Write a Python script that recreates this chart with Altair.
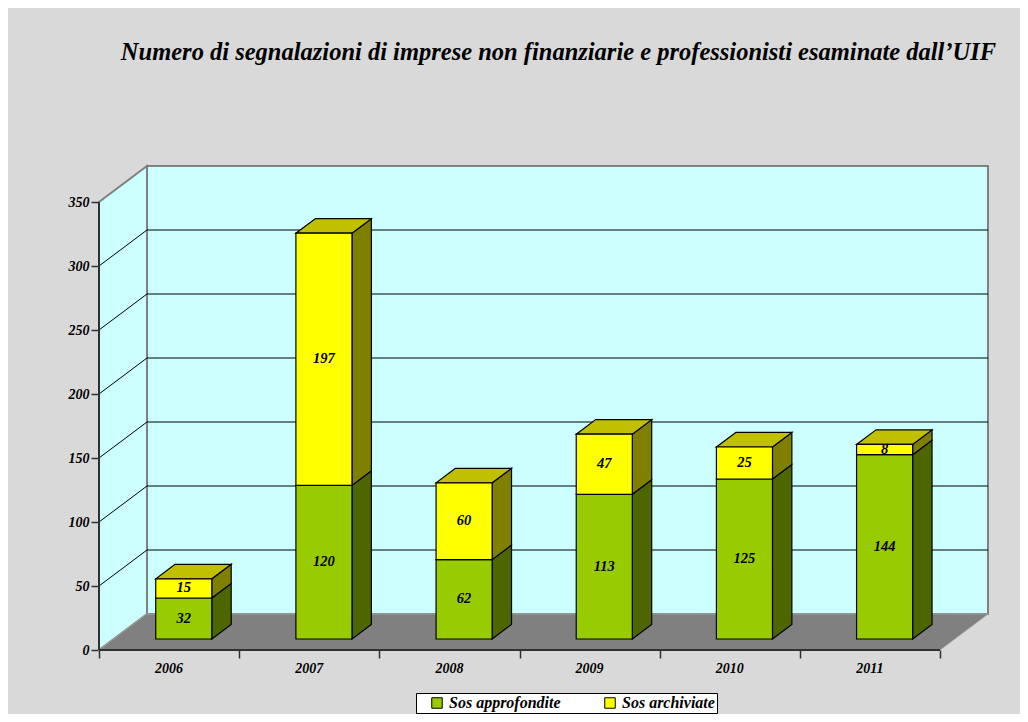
import altair as alt
import pandas as pd

# ---------------- data ----------------
years = ["2006", "2007", "2008", "2009", "2010", "2011"]
approfondite = [32, 120, 62, 113, 125, 144]
archiviate = [15, 197, 60, 47, 25, 8]
series_names = ["Sos approfondite", "Sos archiviate"]
y_ticks = [0, 50, 100, 150, 200, 250, 300, 350]
title_text = "Numero di segnalazioni di imprese non finanziarie e professionisti esaminate dall\u2019UIF"

# ---------------- style / pseudo-3D geometry ----------------
FONT = "Liberation Serif"
PX_X = 841 / 6            # pixels per category
PX_Y = 448 / 350          # pixels per value unit
WALL_DX = 48 / PX_X       # depth of the box, in category units
WALL_DY = 36 / PX_Y       # depth of the box, in value units
F_FRONT, F_BACK = 0.306, 0.71   # depth fractions of bar front/back
BAR_W = 0.4
Y_TOP = 350
N = len(years)

front_colors = ["#99cc00", "#ffff00"]
side_colors = ["#4d6600", "#808000"]
top_colors = ["#6b8f00", "#c0c000"]
WALL = "#ccffff"
EDGE = "#808080"

X_MAX = N + WALL_DX
Y_MAX = Y_TOP + WALL_DY
W = round(X_MAX * PX_X)
H = round(Y_MAX * PX_Y)

xs = alt.Scale(domain=[0, X_MAX], nice=False, zero=False)
ys = alt.Scale(domain=[0, Y_MAX], nice=False, zero=False)

x_axis = alt.Axis(values=list(range(N + 1)), labels=False, domain=False, grid=False,
                  ticks=True, tickSize=8, tickColor="#303030", tickWidth=1.5, title=None)
y_axis = alt.Axis(values=y_ticks, domain=False, grid=False, ticks=True, tickSize=8,
                  tickColor="#303030", tickWidth=1.5, labelFont=FONT, labelFontSize=14,
                  labelFontStyle="italic", labelFontWeight="bold", labelColor="black",
                  labelPadding=2, title=None)


def X(f):
    return alt.X(f, type="quantitative", scale=xs, axis=x_axis, title=None)


def Y(f):
    return alt.Y(f, type="quantitative", scale=ys, axis=y_axis, title=None)


# segments
rows = []
for i, yr in enumerate(years):
    base = 0
    for s, vals in zip(series_names, [approfondite, archiviate]):
        v = vals[i]
        rows.append(dict(year=yr, idx=i, series=s, lo=base, hi=base + v, val=v))
        base += v
seg = pd.DataFrame(rows)
ox, oy = F_FRONT * WALL_DX, F_FRONT * WALL_DY
sx, sy = (F_BACK - F_FRONT) * WALL_DX, (F_BACK - F_FRONT) * WALL_DY
seg["x0"] = seg.idx + 0.5 - BAR_W / 2 + ox
seg["x1"] = seg.idx + 0.5 + BAR_W / 2 + ox
seg["y0"] = seg.lo + oy
seg["y1"] = seg.hi + oy
seg["xm"] = (seg.x0 + seg.x1) / 2
seg["ym"] = (seg.y0 + seg.y1) / 2
seg["sid"] = seg.year + "|" + seg.series

side_rows = []
for r in seg.itertuples():
    side_rows.append(dict(sid=r.sid, series=r.series, x=r.x1, ya=r.y0, yb=r.y1))
    side_rows.append(dict(sid=r.sid, series=r.series, x=r.x1 + sx, ya=r.y0 + sy, yb=r.y1 + sy))
side = pd.DataFrame(side_rows)

top_rows = []
for yr in years:
    t = seg[seg.year == yr].iloc[-1]
    top_rows.append(dict(year=yr, series=t.series, y=t.y1, xa=t.x0, xb=t.x1))
    top_rows.append(dict(year=yr, series=t.series, y=t.y1 + sy, xa=t.x0 + sx, xb=t.x1 + sx))
top = pd.DataFrame(top_rows)

# box (walls, floor, grid)
back = pd.DataFrame([dict(xa=WALL_DX, xb=N + WALL_DX, ya=WALL_DY, yb=Y_TOP + WALL_DY)])
left = pd.DataFrame([dict(x=0.0, ya=0.0, yb=float(Y_TOP)),
                     dict(x=WALL_DX, ya=WALL_DY, yb=Y_TOP + WALL_DY)])
floor = pd.DataFrame([dict(y=0.0, xa=0.0, xb=float(N)),
                      dict(y=WALL_DY, xa=WALL_DX, xb=N + WALL_DX)])
grid = pd.DataFrame([dict(v=v, vb=v + WALL_DY, xa=0.0, xw=WALL_DX, xb=N + WALL_DX)
                     for v in y_ticks if 0 < v < Y_TOP])
yr_df = pd.DataFrame(dict(year=years, xc=[i + 0.5 for i in range(N)], y0=[0.0] * N))
axis_df = pd.DataFrame([dict(x0=0.0, xn=float(N), y0=0.0, yt=float(Y_TOP))])

back_l = alt.Chart(back).mark_rect(fill=WALL, stroke=EDGE, strokeWidth=2).encode(
    x=X("xa"), x2="xb", y=Y("ya"), y2="yb")
left_l = alt.Chart(left).mark_area(orient="vertical", fill=WALL, stroke=EDGE, strokeWidth=2).encode(
    x=X("x"), y=Y("ya"), y2="yb")
floor_l = alt.Chart(floor).mark_area(orient="horizontal", fill="#808080", stroke="#a0a0a0",
                                     strokeWidth=1).encode(
    y=Y("y"), x=X("xa"), x2="xb")
grid_back = alt.Chart(grid).mark_rule(color="black", strokeWidth=1).encode(
    x=X("xw"), x2="xb", y=Y("vb"))
grid_left = alt.Chart(grid).mark_rule(color="black", strokeWidth=1).encode(
    x=X("xa"), x2="xw", y=Y("v"), y2="vb")
yline = alt.Chart(axis_df).mark_rule(color="#303030", strokeWidth=2).encode(
    x=X("x0"), y=Y("y0"), y2="yt")
xline = alt.Chart(axis_df).mark_rule(color="#303030", strokeWidth=2).encode(
    x=X("x0"), x2="xn", y=Y("y0"))

sides = alt.Chart(side).mark_area(orient="vertical", stroke="black", strokeWidth=1.2).encode(
    x=X("x"), y=Y("ya"), y2="yb", detail="sid:N",
    fill=alt.Fill("series:N", scale=alt.Scale(domain=series_names, range=side_colors), legend=None))
tops = alt.Chart(top).mark_area(orient="horizontal", stroke="black", strokeWidth=1.2).encode(
    y=Y("y"), x=X("xa"), x2="xb", detail="year:N",
    fill=alt.Fill("series:N", scale=alt.Scale(domain=series_names, range=top_colors), legend=None))
fronts = alt.Chart(seg).mark_rect(stroke="black", strokeWidth=1.2).encode(
    x=X("x0"), x2="x1", y=Y("y0"), y2="y1",
    color=alt.Color("series:N", scale=alt.Scale(domain=series_names, range=front_colors),
                    legend=alt.Legend(title=None, orient="none", legendX=317, legendY=527,
                                      direction="horizontal", fillColor="white",
                                      strokeColor="black", padding=2, symbolType="square",
                                      symbolSize=110, symbolStrokeColor="black",
                                      symbolStrokeWidth=1, labelFont=FONT, labelFontSize=16,
                                      labelFontStyle="italic", labelFontWeight="bold",
                                      labelColor="black", columnPadding=30, labelOffset=4,
                                      symbolOffset=11, labelLimit=300)))
vals = alt.Chart(seg).mark_text(font=FONT, fontSize=14.5, fontStyle="italic", fontWeight="bold",
                                color="black").encode(
    x=X("xm"), y=Y("ym"), text="val:Q")
yrs = alt.Chart(yr_df).mark_text(font=FONT, fontSize=14, fontStyle="italic", fontWeight="bold",
                                 color="black", dy=19).encode(
    x=X("xc"), y=Y("y0"), text="year:N")

chart = alt.layer(
    back_l, left_l, floor_l, grid_back, grid_left, yline, xline,
    sides, tops, fronts, vals, yrs
).resolve_scale(fill="independent").properties(
    width=W, height=H,
    background="#d9d9d9",
    autosize=alt.AutoSizeParams(type="none"),
    padding={"left": 91, "top": 158, "right": 32, "bottom": 64},
    title=alt.Title(title_text, font=FONT, fontSize=24.5, fontStyle="italic", fontWeight="bold",
                    color="black", anchor="middle", baseline="alphabetic", offset=78, dx=15),
).configure_view(strokeWidth=0)

chart.save("out.html", embed_options={"renderer": "svg", "actions": False})
